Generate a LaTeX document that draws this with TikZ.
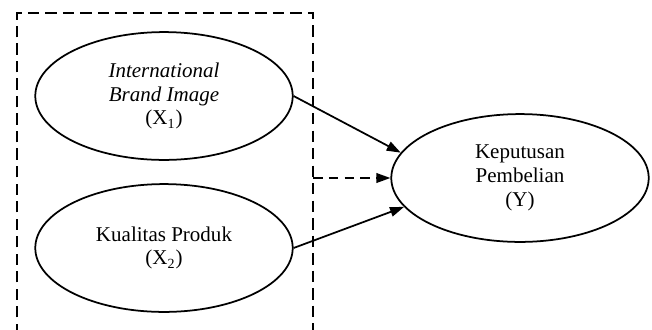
\documentclass[tikz,border=0pt]{standalone}
\usepackage{fontspec}
\setmainfont{Liberation Serif}
\usetikzlibrary{
  arrows.meta,
  positioning,
  shapes.geometric,
}
\tikzset{
  varnode/.style={
    ellipse, draw, line width=1pt, minimum width=147pt, minimum height=73pt,
    inner sep=0pt, align=center, font=\fontsize{12}{13.6}\selectfont
  },
  pathedge/.style={-{Triangle[length=8pt,width=5.5pt]}, line width=1pt},
  groupbox/.style={line width=1pt, dash pattern=on 6.5pt off 3.5pt},
}

\begin{document}
\begin{tikzpicture}[x=0.571pt, y=-0.571pt]
  \useasboundingbox (0,0) rectangle (652,329);

  % ── Independent variables ──
  \node[varnode] (ibi) at (164, 96)  {\textit{International}\\\textit{Brand Image}\\(X\textsubscript{1})};
  \node[varnode] (kp)  at (164, 248) {Kualitas Produk\\(X\textsubscript{2})};

  % ── Dependent variable ──
  \node[varnode] (kpb) at (520, 178) {Keputusan\\Pembelian\\(Y)};

  % ── Simultaneous group frame ──
  \draw[groupbox] (17,335) -- (17,13) -- (313,13) -- (313,335);
  \coordinate (grp) at (313,178);

  % ── Partial effects ──
  \draw[pathedge] (ibi.east) -- (kpb.168);
  \draw[pathedge] (kp.east)  -- (kpb.194);

  % ── Simultaneous effect ──
  \draw[pathedge, dash pattern=on 5.5pt off 3.5pt] (grp) -- (kpb.west);

\end{tikzpicture}
\end{document}
